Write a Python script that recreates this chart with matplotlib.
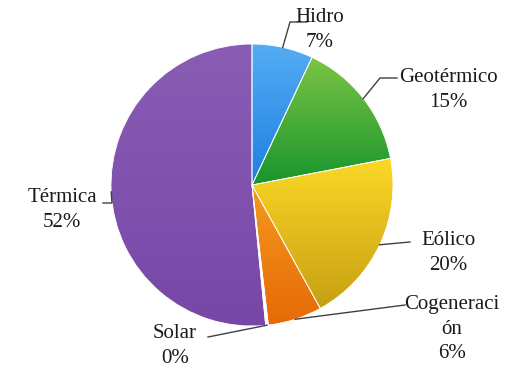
import numpy as np
import matplotlib.pyplot as plt
from matplotlib.colors import LinearSegmentedColormap

# datos
fuentes = ['Hidro', 'Geotérmico', 'Eólico', 'Cogeneraci\nón', 'Solar', 'Térmica']
valores = [7.0, 15.0, 20.0, 6.2, 0.3, 51.6]

# colores (arriba, abajo) para el degradado de cada porción
colores = [('#55acf4', '#1c7fe2'),
           ('#7cc444', '#17952c'),
           ('#fbd826', '#c7a013'),
           ('#f59a1f', '#e66a06'),
           ('#ffffff', '#ffffff'),
           ('#8a5db4', '#7747a7')]

# posicion de las etiquetas (pixeles) y codo de la linea guia
etiquetas_xy = [(320, 30), (448, 90), (448, 253), (452, 329), (175, 346), (62, 210)]
codos = [[(290, 22), (307, 22)],
         [(380, 78), (397, 78)],
         [(410, 242)],
         [(405, 305)],
         [(208, 337)],
         [(112, 203), (103, 203)]]

cx, cy, r = 252, 185, 141

fig = plt.figure(figsize=(5.22, 3.72), dpi=100)
ax = fig.add_axes([0, 0, 1, 1])

wedges, _ = ax.pie(valores, center=(cx, cy), radius=r, startangle=-90,
                   counterclock=True, frame=True,
                   wedgeprops=dict(linewidth=0.6, edgecolor='white'))

grad = np.linspace(0, 1, 256).reshape(-1, 1)
for w, (c1, c2) in zip(wedges, colores):
    ext = w.get_path().get_extents()
    cmap = LinearSegmentedColormap.from_list('g', [c1, c2])
    im = ax.imshow(grad, cmap=cmap, aspect='auto', origin='upper',
                   extent=[ext.x0, ext.x1, ext.y1, ext.y0], zorder=1,
                   interpolation='bilinear')
    im.set_clip_path(w)
    w.set_facecolor('none')
    w.set_zorder(2)

total = sum(valores)
for w, nombre, v, (tx, ty), codo in zip(wedges, fuentes, valores, etiquetas_xy, codos):
    ang = np.deg2rad((w.theta1 + w.theta2) / 2)
    x0 = cx + r * np.cos(ang)
    y0 = cy + r * np.sin(ang)
    xs = [x0] + [p[0] for p in codo]
    ys = [y0] + [p[1] for p in codo]
    ax.plot(xs, ys, color='#404040', lw=1, zorder=3)
    ax.text(tx, ty, f'{nombre}\n{round(v / total * 100)}%', ha='center', va='center',
            fontsize=15, family='Liberation Serif', color='#1a1a1a',
            linespacing=1.4)

ax.set_xlim(0, 522)
ax.set_ylim(372, 0)
ax.set_aspect('equal')
ax.axis('off')

fig.savefig('out.png', dpi=100)
